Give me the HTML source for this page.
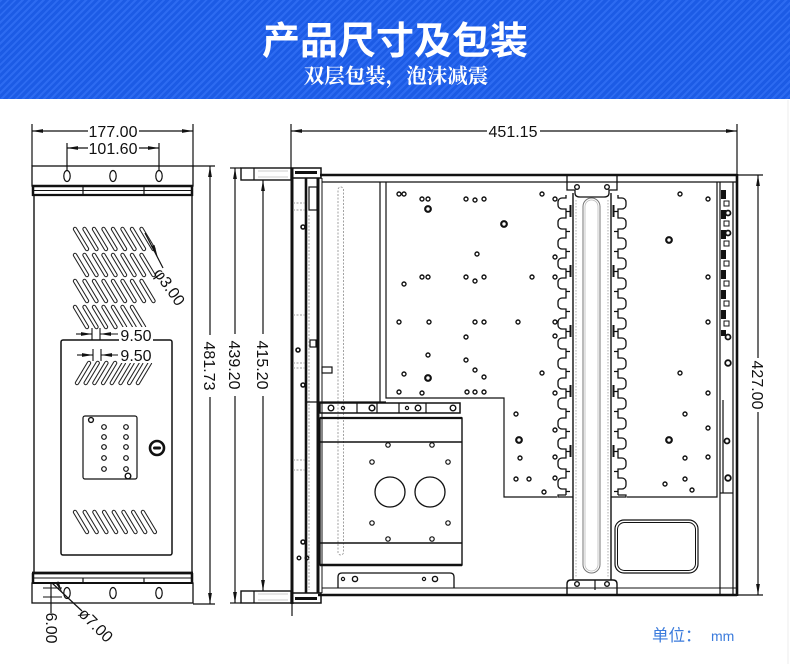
<!DOCTYPE html>
<html><head><meta charset="utf-8">
<style>
html,body{margin:0;padding:0;background:#fff;}
body{width:790px;height:664px;overflow:hidden;position:relative;}
.hdr{position:absolute;left:0;top:0;width:790px;height:99px;background:#1d60f0;background-image:repeating-linear-gradient(135deg,rgba(255,255,255,0.07) 0 2px,rgba(0,0,20,0.05) 2px 5px);}
svg{position:absolute;left:0;top:0;}
</style></head><body>
<div class="hdr"></div>
<svg width="790" height="664" viewBox="0 0 790 664" xmlns="http://www.w3.org/2000/svg">
<defs>
<marker id="ar" viewBox="0 0 11 5" refX="11" refY="2.5" markerWidth="11" markerHeight="5" orient="auto-start-reverse" markerUnits="userSpaceOnUse"><path d="M0,0.6 L11,2.5 L0,4.4Z" fill="#111"/></marker>
<g id="sl"><line x1="0" y1="0" x2="12" y2="20" stroke="#222" stroke-width="4.4" stroke-linecap="round"/><line x1="0" y1="0" x2="12" y2="20" stroke="#fff" stroke-width="2.3" stroke-linecap="round"/></g>
<g id="sr"><line x1="12" y1="0" x2="0" y2="20" stroke="#222" stroke-width="4.4" stroke-linecap="round"/><line x1="12" y1="0" x2="0" y2="20" stroke="#fff" stroke-width="2.3" stroke-linecap="round"/></g>
<path id="tab" d="M9,0 L9,3 L5,3 A4,4 0 0 0 1,7 L1,10 A4,4 0 0 0 5,14 L9,14 L9,20 M9,16.5 L13,16.5" fill="none" stroke="#111" stroke-width="1.3"/>
</defs>

<!-- Header text -->
<text x="395" y="54" text-anchor="middle" font-family="'Noto Sans CJK SC','WenQuanYi Zen Hei',sans-serif" font-weight="700" font-size="38" fill="#fff">产品尺寸及包装</text>
<text x="396" y="83" text-anchor="middle" font-family="'Noto Serif CJK SC','Noto Sans CJK SC',serif" font-weight="700" font-size="20.5" fill="#fff">双层包装，泡沫减震</text>

<line x1="788" y1="100" x2="788" y2="664" stroke="#ececec" stroke-width="1"/>

<g fill="none" stroke="#111" stroke-width="1.2">
<!-- ============ LEFT VIEW ============ -->
<line x1="32" y1="124" x2="32" y2="166"/><line x1="193" y1="124" x2="193" y2="166"/>
<line x1="32" y1="131" x2="193" y2="131" marker-start="url(#ar)" marker-end="url(#ar)"/>
<line x1="67" y1="143" x2="67" y2="171"/><line x1="159" y1="143" x2="159" y2="171"/>
<line x1="67" y1="148" x2="159" y2="148" marker-start="url(#ar)" marker-end="url(#ar)"/>

<rect x="32" y="166" width="161" height="20" stroke-width="1.3"/>
<ellipse cx="67" cy="176" rx="3.2" ry="5.5"/><ellipse cx="113" cy="176" rx="3.2" ry="5.5"/><ellipse cx="159" cy="176" rx="3.2" ry="5.5"/>
<line x1="32" y1="186" x2="193" y2="186" stroke-width="2.6"/>
<line x1="33" y1="190.5" x2="192" y2="190.5" stroke-width="0.9"/>
<line x1="32" y1="195" x2="193" y2="195" stroke-width="2.2"/>
<line x1="33" y1="186" x2="33" y2="196" stroke-width="2.5"/><line x1="192" y1="186" x2="192" y2="196" stroke-width="2.5"/>
<line x1="83" y1="186" x2="83" y2="195"/><line x1="144" y1="186" x2="144" y2="195"/>
<line x1="34" y1="196" x2="34" y2="573" stroke-width="1.4"/><line x1="192" y1="196" x2="192" y2="573" stroke-width="1.4"/>

<!-- slots -->
<use href="#sl" x="75" y="229"/><use href="#sl" x="84.5" y="229"/><use href="#sl" x="94" y="229"/><use href="#sl" x="103.5" y="229"/><use href="#sl" x="113" y="229"/><use href="#sl" x="122.5" y="229"/><use href="#sl" x="132" y="229"/><use href="#sl" x="141.5" y="229"/>
<use href="#sl" x="75" y="255"/><use href="#sl" x="84.5" y="255"/><use href="#sl" x="94" y="255"/><use href="#sl" x="103.5" y="255"/><use href="#sl" x="113" y="255"/><use href="#sl" x="122.5" y="255"/><use href="#sl" x="132" y="255"/><use href="#sl" x="141.5" y="255"/>
<use href="#sl" x="75" y="281"/><use href="#sl" x="84.5" y="281"/><use href="#sl" x="94" y="281"/><use href="#sl" x="103.5" y="281"/><use href="#sl" x="113" y="281"/><use href="#sl" x="122.5" y="281"/><use href="#sl" x="132" y="281"/><use href="#sl" x="141.5" y="281"/>
<use href="#sl" x="75" y="307"/><use href="#sl" x="84.5" y="307"/><use href="#sl" x="94" y="307"/><use href="#sl" x="103.5" y="307"/><use href="#sl" x="113" y="307"/><use href="#sl" x="122.5" y="307"/><use href="#sl" x="132" y="307"/>

<!-- phi 3 leader -->
<line x1="145" y1="233" x2="163" y2="268"/>
<path d="M158,258 L151,246 L154.5,245 Z" fill="#111" stroke="none"/>

<!-- door -->
<rect x="61" y="340" width="111" height="215" rx="2" stroke-width="1.5"/>
<use href="#sr" x="77" y="363"/><use href="#sr" x="85.7" y="363"/><use href="#sr" x="94.4" y="363"/><use href="#sr" x="103.1" y="363"/><use href="#sr" x="111.8" y="363"/><use href="#sr" x="120.5" y="363"/><use href="#sr" x="129.2" y="363"/><use href="#sr" x="137.9" y="363"/>
<rect x="83" y="416" width="54" height="63" rx="2"/>
<circle cx="91" cy="420" r="2.4" stroke-width="1.4"/>
<circle cx="104" cy="427" r="2.3"/><circle cx="104" cy="437" r="2.3"/><circle cx="104" cy="447" r="2.3"/><circle cx="104" cy="458" r="2.3"/><circle cx="104" cy="469" r="2.3"/>
<circle cx="126" cy="427" r="2.3"/><circle cx="126" cy="437" r="2.3"/><circle cx="126" cy="447" r="2.3"/><circle cx="126" cy="458" r="2.3"/><circle cx="126" cy="469" r="2.3"/>
<circle cx="128" cy="476" r="2.8" stroke-width="1.4"/>
<circle cx="157" cy="448" r="7" stroke-width="2.6"/>
<rect x="153" y="446.5" width="8" height="3" rx="1.5" fill="#111" stroke="none"/>
<use href="#sl" x="75" y="512"/><use href="#sl" x="84.7" y="512"/><use href="#sl" x="94.4" y="512"/><use href="#sl" x="104.1" y="512"/><use href="#sl" x="113.8" y="512"/><use href="#sl" x="123.5" y="512"/><use href="#sl" x="133.2" y="512"/><use href="#sl" x="142.9" y="512"/>

<!-- bottom flange/ear -->
<line x1="32" y1="573" x2="193" y2="573" stroke-width="2.8"/>
<line x1="33" y1="578" x2="192" y2="578" stroke-width="0.9"/>
<line x1="32" y1="583" x2="193" y2="583" stroke-width="2"/>
<line x1="33" y1="573" x2="33" y2="583" stroke-width="2.5"/><line x1="192" y1="573" x2="192" y2="583" stroke-width="2.5"/>
<line x1="83" y1="578" x2="83" y2="583"/><line x1="144" y1="578" x2="144" y2="583"/>
<rect x="32" y="583" width="161" height="20" stroke-width="1.3"/>
<ellipse cx="67" cy="593" rx="3.2" ry="5.5"/><ellipse cx="113" cy="593" rx="3.2" ry="5.5"/><ellipse cx="159" cy="593" rx="3.2" ry="5.5"/>

<!-- 6.00 / ø7.00 -->
<line x1="51" y1="582" x2="51" y2="613"/>
<line x1="43" y1="588" x2="62" y2="588" stroke-width="1"/><line x1="43" y1="597" x2="62" y2="597" stroke-width="1"/>
<line x1="52" y1="583" x2="82" y2="611"/>
<path d="M62,592 L55,582.5 L58.5,581.5 Z" fill="#111" stroke="none"/>

<!-- vertical dims -->
<line x1="193" y1="166" x2="215" y2="166"/><line x1="193" y1="604" x2="215" y2="604"/>
<line x1="210" y1="166" x2="210" y2="604" marker-start="url(#ar)" marker-end="url(#ar)"/>
<line x1="230" y1="168" x2="241" y2="168"/><line x1="230" y1="603" x2="241" y2="603"/>
<line x1="235" y1="168" x2="235" y2="603" marker-start="url(#ar)" marker-end="url(#ar)"/>
<line x1="263" y1="180" x2="263" y2="591" marker-start="url(#ar)" marker-end="url(#ar)"/>

<!-- ============ TOP VIEW ============ -->
<line x1="291" y1="124" x2="291" y2="168"/><line x1="737" y1="124" x2="737" y2="174"/>
<line x1="291" y1="131" x2="737" y2="131" marker-start="url(#ar)" marker-end="url(#ar)"/>
<line x1="737" y1="175" x2="763" y2="175"/><line x1="737" y1="595" x2="763" y2="595"/>
<line x1="758" y1="175" x2="758" y2="595" marker-start="url(#ar)" marker-end="url(#ar)"/>

<!-- handles -->
<rect x="241" y="168" width="50" height="12" stroke-width="1.4"/><line x1="254" y1="168" x2="254" y2="180"/>
<line x1="258" y1="171" x2="288" y2="171" stroke="#bbb" stroke-width="0.8"/><line x1="258" y1="177" x2="288" y2="177" stroke="#bbb" stroke-width="0.8"/>
<rect x="241" y="591" width="50" height="12" stroke-width="1.4"/><line x1="254" y1="591" x2="254" y2="603"/>
<line x1="258" y1="594" x2="288" y2="594" stroke="#bbb" stroke-width="0.8"/><line x1="258" y1="600" x2="288" y2="600" stroke="#bbb" stroke-width="0.8"/>

<!-- front structure -->
<line x1="292" y1="168" x2="292" y2="604" stroke-width="3"/>
<line x1="292" y1="604" x2="292" y2="616" stroke-width="1.2"/>
<rect x="292" y="168" width="29" height="10" stroke-width="1.5"/>
<rect x="295" y="171" width="22" height="3" fill="#111" stroke="none"/>
<rect x="292" y="593" width="29" height="10" stroke-width="1.5"/>
<rect x="295" y="597" width="22" height="3" fill="#111" stroke="none"/>
<line x1="306" y1="178" x2="306" y2="593" stroke-width="2.6"/>
<line x1="318" y1="178" x2="318" y2="593" stroke-width="3"/>
<line x1="322" y1="178" x2="322" y2="593" stroke-width="1"/>
<rect x="309" y="187" width="8" height="23"/>
<rect x="310" y="340" width="6" height="7"/>
<rect x="322" y="367" width="10" height="6"/>
<circle cx="303" cy="227" r="2" stroke-width="1.6"/><circle cx="298" cy="350" r="2" stroke-width="1.6"/><circle cx="303" cy="385" r="2" stroke-width="1.6"/>
<circle cx="303" cy="542" r="2" stroke-width="1.6"/><circle cx="299" cy="558" r="1.8" stroke-width="1.4"/><circle cx="307" cy="558" r="1.8" stroke-width="1.4"/>
<g stroke="#999" stroke-width="0.9" stroke-dasharray="2 1.5">
<line x1="293" y1="203" x2="305" y2="203"/><line x1="293" y1="210" x2="305" y2="210"/>
<line x1="293" y1="315" x2="305" y2="315"/><line x1="293" y1="363" x2="305" y2="363"/><line x1="293" y1="368" x2="305" y2="368"/>
<line x1="293" y1="460" x2="305" y2="460"/><line x1="293" y1="470" x2="305" y2="470"/>
<line x1="309" y1="215" x2="309" y2="590"/>
<rect x="338" y="187" width="5.5" height="368" rx="2.7"/>
</g>
<line x1="380" y1="182" x2="380" y2="402"/>
<line x1="306" y1="402" x2="386" y2="402"/>

<!-- body outline -->
<line x1="320" y1="175" x2="737" y2="175" stroke-width="2.6"/>
<line x1="322" y1="182" x2="736" y2="182"/>
<line x1="737" y1="174" x2="737" y2="596" stroke-width="2.6"/>
<line x1="733" y1="182" x2="733" y2="595"/>
<line x1="720" y1="182" x2="720" y2="595"/>
<line x1="723" y1="400" x2="723" y2="493"/>
<line x1="720" y1="493" x2="733" y2="493"/>
<line x1="322" y1="588" x2="737" y2="588" stroke-width="1"/>
<line x1="318" y1="595" x2="737" y2="595" stroke-width="2.6"/>

<!-- board -->
<polyline points="386,182 386,398 504,398 504,497 557,497"/>
<polyline points="627,497 717,497 717,182"/>

<!-- right strip -->
<g fill="#111" stroke="none">
<rect x="721" y="190" width="5" height="9"/><rect x="721" y="210" width="5" height="9"/><rect x="721" y="230" width="5" height="9"/><rect x="721" y="250" width="5" height="9"/><rect x="721" y="270" width="5" height="9"/><rect x="721" y="290" width="5" height="9"/><rect x="721" y="310" width="5" height="9"/><rect x="721" y="330" width="5" height="6"/>
</g>
<rect x="724" y="201" width="5" height="5" stroke-width="1"/><rect x="724" y="221" width="5" height="5" stroke-width="1"/><rect x="724" y="241" width="5" height="5" stroke-width="1"/><rect x="724" y="261" width="5" height="5" stroke-width="1"/><rect x="724" y="281" width="5" height="5" stroke-width="1"/><rect x="724" y="301" width="5" height="5" stroke-width="1"/><rect x="724" y="321" width="5" height="5" stroke-width="1"/>
<circle cx="728" cy="213" r="2.5" stroke-width="1.8"/><circle cx="728" cy="233" r="2.5" stroke-width="1.8"/><circle cx="728" cy="337" r="2.5" stroke-width="1.8"/><circle cx="728" cy="363" r="2.8" stroke-width="1.8"/>
<circle cx="727" cy="441" r="2.5" stroke-width="1.8"/><circle cx="728" cy="478" r="2.8" stroke-width="1.8"/>

<!-- central bar -->
<path d="M567,175 L567,190 L575,190 L575,193 Q575,197 580,197 L604,197 Q609,197 609,193 L609,190 L617,190 L617,175" stroke-width="1.3"/>
<circle cx="577" cy="187" r="2.3" stroke-width="1.4"/><circle cx="607" cy="187" r="2.3" stroke-width="1.4"/>
<line x1="573" y1="193" x2="573" y2="580" stroke-width="1.4"/>
<line x1="611" y1="193" x2="611" y2="580" stroke-width="1.4"/>
<line x1="576" y1="200" x2="576" y2="578" stroke="#999" stroke-width="0.8" stroke-dasharray="1.5 1.5"/>
<line x1="608" y1="200" x2="608" y2="578" stroke="#999" stroke-width="0.8" stroke-dasharray="1.5 1.5"/>
<rect x="583" y="198" width="17" height="375" rx="8.5" stroke="#777" stroke-width="1"/>
<rect x="585" y="200" width="13" height="371" rx="6.5" stroke="#bbb" stroke-width="0.8"/>
<g>
<use href="#tab" x="557" y="195"/><use href="#tab" x="557" y="215"/><use href="#tab" x="557" y="235"/><use href="#tab" x="557" y="255"/><use href="#tab" x="557" y="275"/><use href="#tab" x="557" y="295"/><use href="#tab" x="557" y="315"/><use href="#tab" x="557" y="335"/><use href="#tab" x="557" y="355"/><use href="#tab" x="557" y="375"/><use href="#tab" x="557" y="395"/><use href="#tab" x="557" y="415"/><use href="#tab" x="557" y="435"/><use href="#tab" x="557" y="455"/><use href="#tab" x="557" y="475"/>
<polyline points="566,495 558,495 558,497 573,497"/>
</g>
<g transform="translate(1184,0) scale(-1,1)">
<use href="#tab" x="557" y="195"/><use href="#tab" x="557" y="215"/><use href="#tab" x="557" y="235"/><use href="#tab" x="557" y="255"/><use href="#tab" x="557" y="275"/><use href="#tab" x="557" y="295"/><use href="#tab" x="557" y="315"/><use href="#tab" x="557" y="335"/><use href="#tab" x="557" y="355"/><use href="#tab" x="557" y="375"/><use href="#tab" x="557" y="395"/><use href="#tab" x="557" y="415"/><use href="#tab" x="557" y="435"/><use href="#tab" x="557" y="455"/><use href="#tab" x="557" y="475"/>
<polyline points="566,495 558,495 558,497 573,497"/>
</g>
<g fill="#111" stroke="none">
<rect x="569.5" y="205" width="2" height="12"/><rect x="569.5" y="265" width="2" height="12"/><rect x="569.5" y="325" width="2" height="12"/><rect x="569.5" y="385" width="2" height="12"/><rect x="569.5" y="445" width="2" height="12"/>
<rect x="612.5" y="205" width="2" height="12"/><rect x="612.5" y="265" width="2" height="12"/><rect x="612.5" y="325" width="2" height="12"/><rect x="612.5" y="385" width="2" height="12"/><rect x="612.5" y="445" width="2" height="12"/>
</g>
<path d="M567,595 L567,584 Q567,580 571,580 L613,580 Q617,580 617,584 L617,595" stroke-width="1.4"/>
<line x1="595" y1="580" x2="595" y2="590"/>
<circle cx="577" cy="584" r="2.3" stroke-width="1.4"/><circle cx="607" cy="584" r="2.3" stroke-width="1.4"/>

<!-- cutout -->
<rect x="615" y="520" width="83" height="53" rx="9" stroke-width="1.2"/>
<rect x="617.5" y="522.5" width="78" height="48" rx="7" stroke-width="1"/>

<!-- drive cage -->
<rect x="320" y="403" width="140" height="10" stroke-width="1.5"/>
<line x1="357" y1="403" x2="357" y2="413"/><line x1="377" y1="403" x2="377" y2="413"/><line x1="399" y1="403" x2="399" y2="413"/><line x1="426" y1="403" x2="426" y2="413"/>
<circle cx="331" cy="408" r="2.8" stroke-width="1.4"/><circle cx="343" cy="408" r="1.6"/><circle cx="372" cy="408" r="2.8" stroke-width="1.6"/><circle cx="407" cy="408" r="1.6"/><circle cx="418" cy="408" r="2.8" stroke-width="1.4"/><circle cx="453" cy="408" r="2.8" stroke-width="1.4"/>
<rect x="320" y="418" width="142" height="147" stroke-width="1.4"/>
<line x1="320" y1="418" x2="462" y2="418" stroke-width="2.2"/>
<line x1="320" y1="442" x2="462" y2="442" stroke-width="1.4"/>
<line x1="320" y1="543" x2="462" y2="543" stroke-width="1.4"/>
<line x1="320" y1="565" x2="462" y2="565" stroke-width="2.4"/>
<circle cx="388" cy="445" r="2.2"/><circle cx="432" cy="445" r="2.2"/><circle cx="372" cy="462" r="2.2"/><circle cx="448" cy="462" r="2.2"/>
<circle cx="372" cy="523" r="2.2"/><circle cx="448" cy="523" r="2.2"/><circle cx="388" cy="539" r="2.2"/><circle cx="432" cy="539" r="2.2"/>
<circle cx="390" cy="492" r="15" stroke-width="1.3"/><circle cx="430" cy="492" r="15" stroke-width="1.3"/>
<path d="M338,588 L338,577 Q338,573 342,573 L450,573 Q454,573 454,577 L454,588" stroke-width="1.3"/>
<circle cx="343" cy="579" r="1.6"/><circle cx="355" cy="579" r="2.6" stroke-width="1.4"/><circle cx="424" cy="579" r="1.6"/><circle cx="435" cy="579" r="2.6" stroke-width="1.4"/>

<!-- board holes -->
<g stroke-width="1.4">
<circle cx="399" cy="194" r="2"/><circle cx="404" cy="194" r="2"/><circle cx="422" cy="199" r="2"/><circle cx="428" cy="199" r="2"/><circle cx="466" cy="199" r="2"/><circle cx="475" cy="200" r="2"/><circle cx="484" cy="199" r="2"/><circle cx="542" cy="194" r="2"/><circle cx="680" cy="194" r="2"/><circle cx="708" cy="199" r="2"/>
<circle cx="477" cy="254" r="2"/><circle cx="422" cy="277" r="2"/><circle cx="428" cy="277" r="2"/><circle cx="404" cy="284" r="2"/><circle cx="466" cy="277" r="2"/><circle cx="475" cy="281" r="2"/><circle cx="484" cy="277" r="2"/><circle cx="532" cy="277" r="2"/><circle cx="708" cy="277" r="2"/>
<circle cx="399" cy="322" r="2"/><circle cx="429" cy="322" r="2"/><circle cx="475" cy="322" r="2"/><circle cx="484" cy="322" r="2"/><circle cx="518" cy="322" r="2"/><circle cx="708" cy="322" r="2"/>
<circle cx="466" cy="337" r="2"/><circle cx="428" cy="355" r="2"/><circle cx="466" cy="360" r="2"/><circle cx="475" cy="370" r="2"/><circle cx="404" cy="374" r="2"/><circle cx="484" cy="377" r="2"/><circle cx="542" cy="373" r="2"/><circle cx="680" cy="373" r="2"/>
<circle cx="399" cy="392" r="2"/><circle cx="422" cy="393" r="2"/><circle cx="467" cy="392" r="2"/><circle cx="475" cy="392" r="2"/><circle cx="484" cy="392" r="2"/><circle cx="708" cy="393" r="2"/>
<circle cx="516" cy="414" r="2"/><circle cx="520" cy="458" r="2"/><circle cx="516" cy="479" r="2"/><circle cx="529" cy="479" r="2"/><circle cx="544" cy="492" r="2"/>
<circle cx="685" cy="414" r="2"/><circle cx="708" cy="428" r="2"/><circle cx="685" cy="458" r="2"/><circle cx="708" cy="457" r="2"/><circle cx="665" cy="484" r="2"/><circle cx="685" cy="479" r="2"/><circle cx="692" cy="490" r="2"/>
<circle cx="555" cy="199" r="2"/><circle cx="555" cy="257" r="2"/><circle cx="555" cy="277" r="2"/><circle cx="555" cy="322" r="2"/><circle cx="555" cy="336" r="2"/><circle cx="555" cy="393" r="2"/><circle cx="555" cy="430" r="2"/><circle cx="555" cy="457" r="2"/><circle cx="555" cy="478" r="2"/>
</g>
<g stroke-width="2.2">
<circle cx="428" cy="209" r="2.8"/><circle cx="504" cy="224" r="2.8"/><circle cx="669" cy="240" r="2.8"/><circle cx="428" cy="378" r="2.8"/><circle cx="519" cy="440" r="2.8"/><circle cx="669" cy="440" r="2.8"/>
</g>
</g>

<!-- dimension text backgrounds -->
<g fill="#fff" stroke="none">
<rect x="88" y="123" width="51" height="16"/>
<rect x="88" y="140" width="51" height="16"/>
<rect x="487" y="123" width="53" height="16"/>
<rect x="119" y="327" width="34" height="15"/>
<rect x="119" y="348" width="34" height="15"/>
<rect x="203" y="335" width="15" height="62"/>
<rect x="228" y="334" width="15" height="62"/>
<rect x="256" y="334" width="15" height="62"/>
<rect x="751" y="358" width="15" height="54"/>
</g>

<!-- dimension text -->
<g font-family="'Liberation Sans',sans-serif" font-size="16" fill="#111" text-anchor="middle">
<text x="113" y="137">177.00</text>
<text x="113" y="154">101.60</text>
<text x="513" y="137">451.15</text>
<text x="136" y="341">9.50</text>
<text x="136" y="361">9.50</text>
<text transform="translate(204,366) rotate(90)">481.73</text>
<text transform="translate(229,365) rotate(90)">439.20</text>
<text transform="translate(257,365) rotate(90)">415.20</text>
<text transform="translate(752,385) rotate(90)">427.00</text>
<text transform="translate(46,628) rotate(90)">6.00</text>
<text transform="translate(92,629) rotate(45)">ø7.00</text>
<text transform="translate(165,290) rotate(55)">φ3.00</text>
</g>

<!-- 9.50 small dims -->
<g stroke="#111" stroke-width="1.1" fill="none">
<line x1="92" y1="328" x2="92" y2="340"/><line x1="100" y1="328" x2="100" y2="340"/>
<line x1="76" y1="334" x2="92" y2="334" marker-end="url(#ar)"/><line x1="118" y1="334" x2="100" y2="334" marker-end="url(#ar)"/>
<line x1="93" y1="349" x2="93" y2="361"/><line x1="101" y1="349" x2="101" y2="361"/>
<line x1="77" y1="355" x2="93" y2="355" marker-end="url(#ar)"/><line x1="118" y1="355" x2="101" y2="355" marker-end="url(#ar)"/>
</g>

<!-- unit -->
<text x="652" y="641" font-family="'Noto Sans CJK SC','WenQuanYi Zen Hei',sans-serif" font-size="16.5" fill="#3b7bdc">单位：</text>
<text x="711" y="641" font-family="'Liberation Sans',sans-serif" font-size="14" fill="#3b7bdc">mm</text>
</svg>
</body></html>
